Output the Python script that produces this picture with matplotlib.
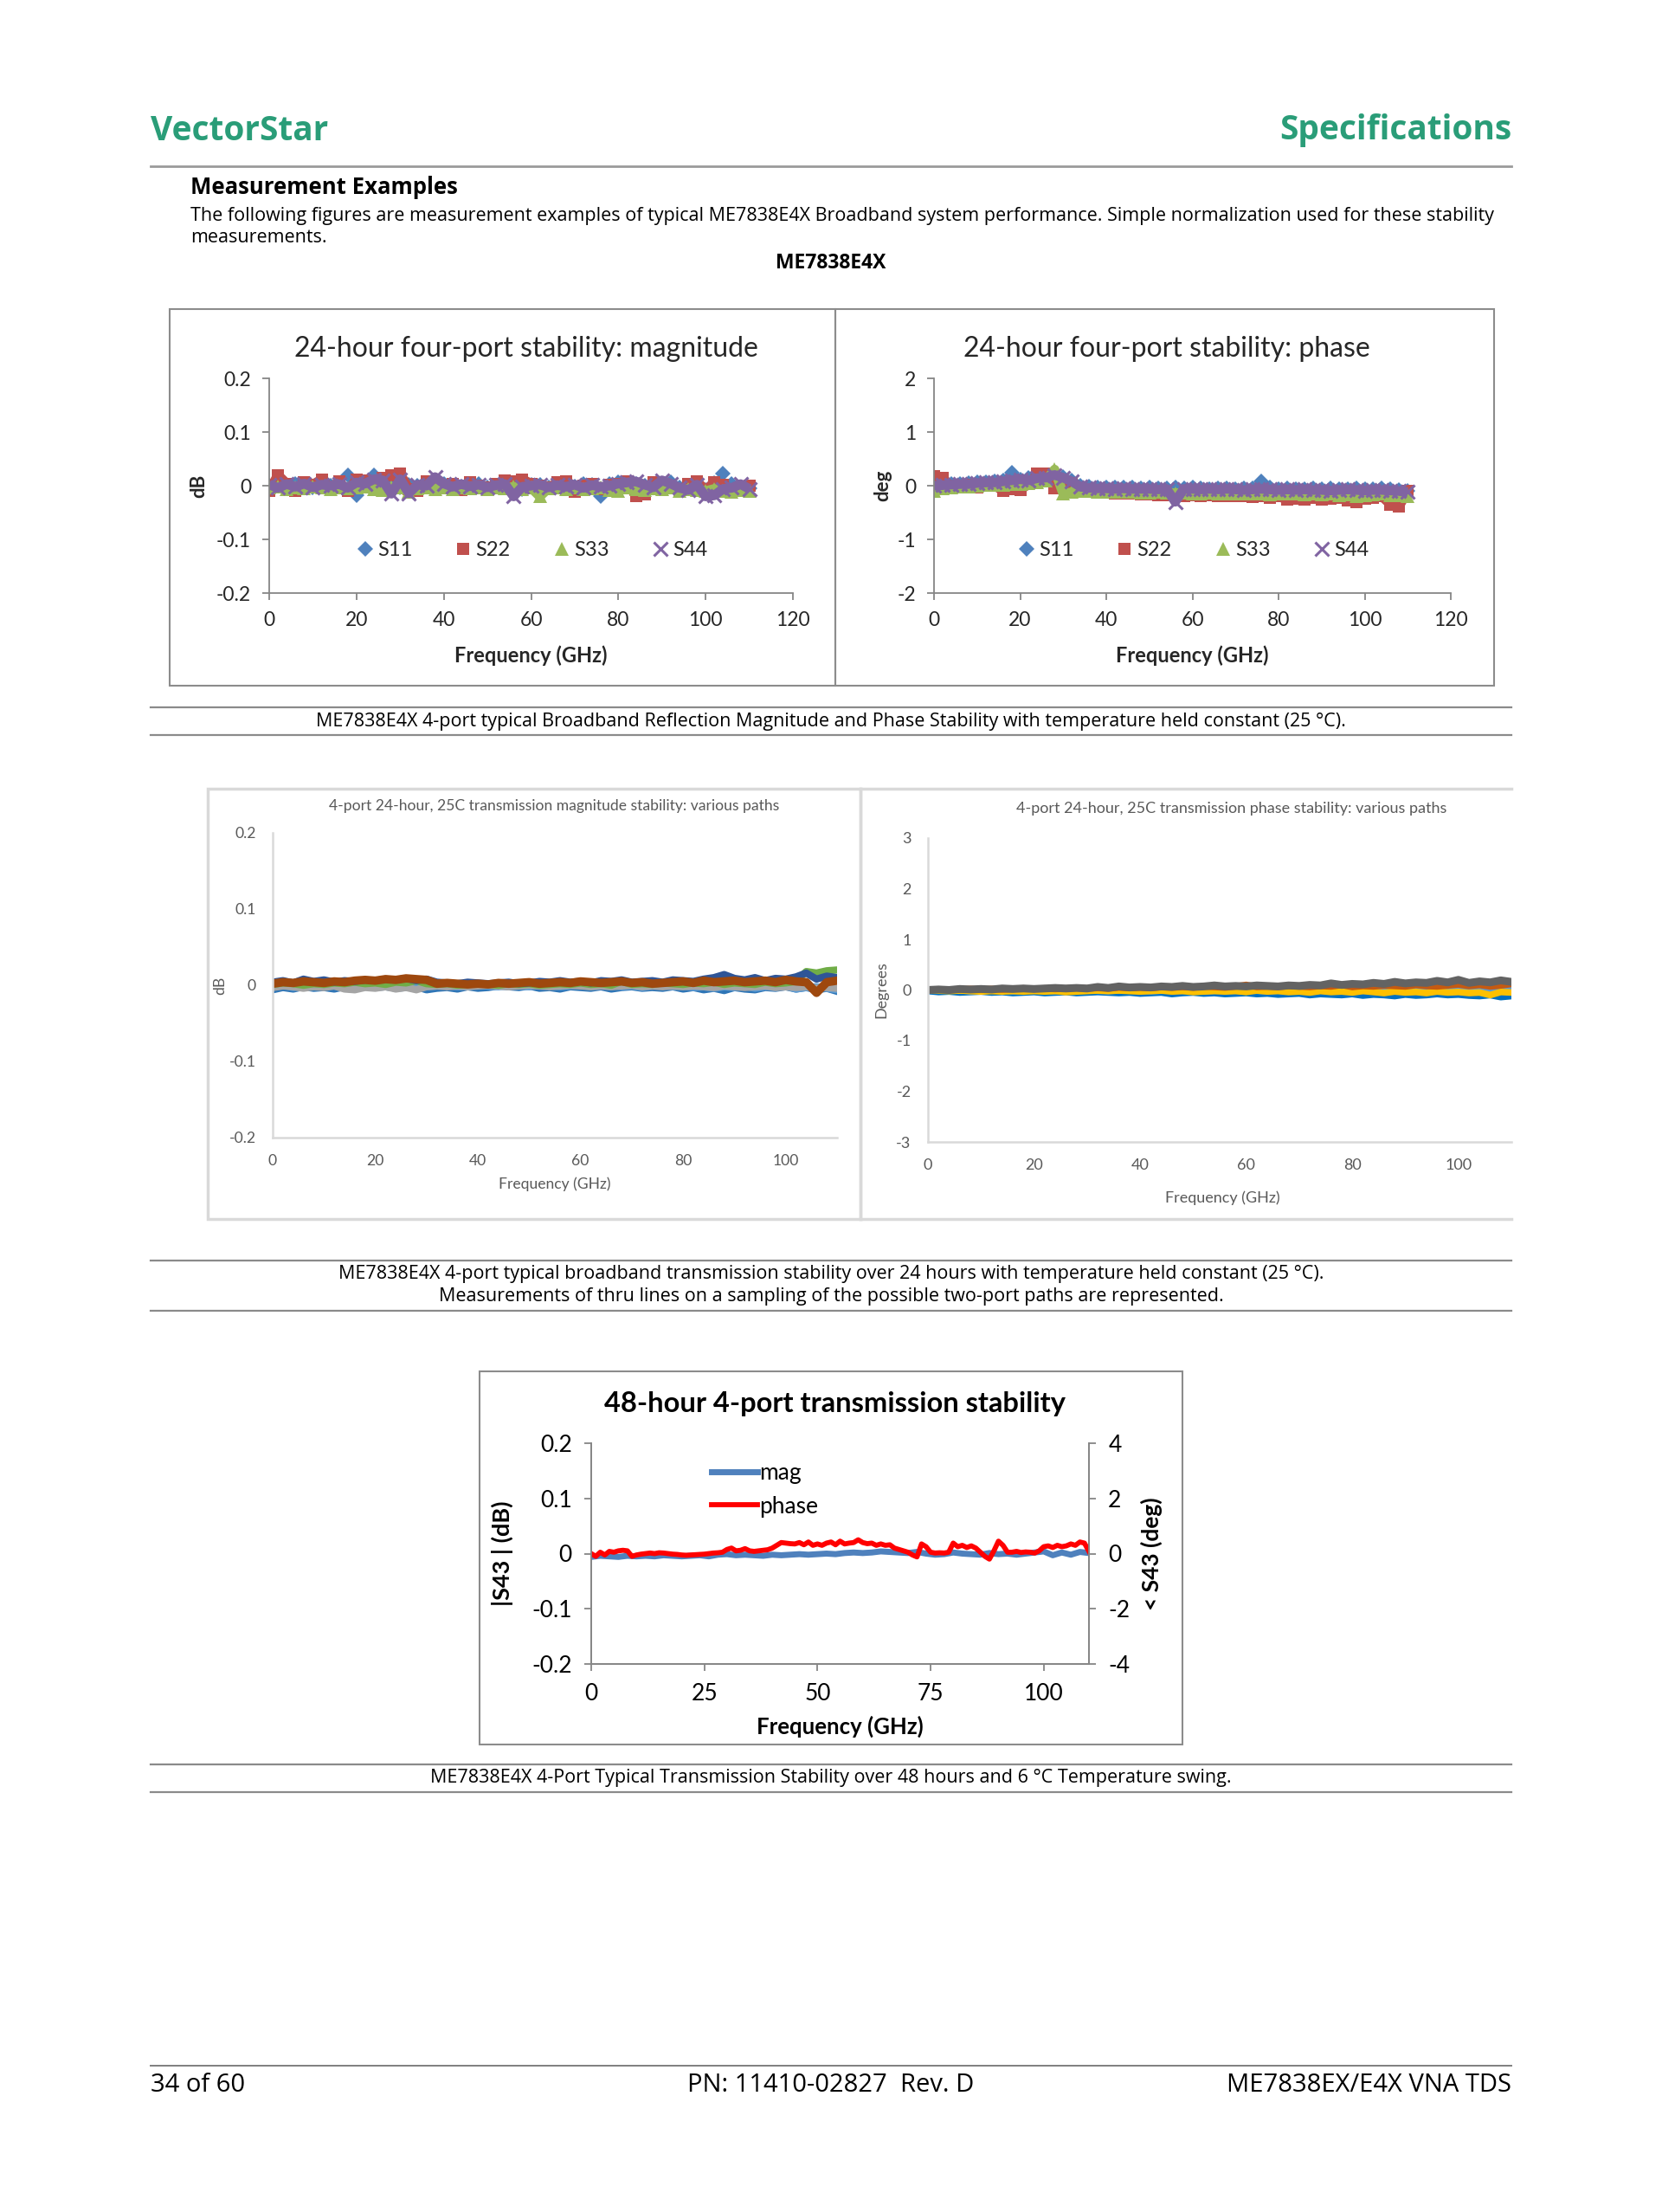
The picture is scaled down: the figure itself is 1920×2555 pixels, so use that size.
import numpy as np
import matplotlib
matplotlib.use('Agg')
import matplotlib.pyplot as plt
from matplotlib.lines import Line2D
from matplotlib.patches import Rectangle

# ---------------- data ----------------
# reflection stability, 24 h (every 2 GHz, 0..110 GHz)
refl_freq = np.arange(0, 111, 2)
mag_s11 = [0.000, 0.003, -0.002, 0.004, 0.001, -0.003, 0.002, 0.000, 0.003, 0.020,
           -0.018, 0.004, 0.019, 0.005, 0.002, -0.003, 0.001, 0.000, 0.002, -0.004,
           0.003, 0.000, -0.002, 0.001, 0.003, -0.003, 0.000, 0.002, -0.001, -0.006,
           0.002, 0.001, -0.003, 0.000, 0.002, -0.002, 0.004, 0.001, -0.020, 0.003,
           0.006, -0.002, 0.004, 0.000, -0.003, 0.002, 0.007, -0.004, 0.000, 0.003,
           -0.008, 0.005, 0.022, 0.004, -0.003, -0.005]
mag_s22 = [-0.010, 0.020, 0.004, -0.010, 0.006, 0.002, 0.012, -0.004, 0.008, -0.010,
           0.012, 0.010, 0.006, 0.014, 0.020, 0.022, -0.006, -0.010, 0.008, 0.002,
           -0.002, 0.004, -0.008, 0.006, 0.000, -0.004, 0.003, 0.010, 0.008, 0.012,
           0.004, 0.000, -0.004, 0.006, 0.008, -0.012, 0.000, 0.004, -0.006, 0.002,
           0.004, 0.008, -0.020, -0.016, 0.006, 0.002, -0.004, -0.010, 0.004, 0.008,
           -0.008, 0.006, 0.002, -0.008, -0.004, 0.000]
mag_s33 = [-0.004, -0.002, -0.006, -0.003, -0.005, -0.002, -0.004, -0.006, -0.003, -0.005,
           -0.004, -0.002, -0.006, -0.008, -0.003, -0.004, -0.012, -0.005, -0.003, -0.006,
           -0.004, -0.007, -0.003, -0.005, -0.004, -0.006, -0.003, -0.005, -0.002, -0.006,
           -0.004, -0.020, -0.005, -0.003, -0.006, -0.004, -0.007, -0.005, -0.003, -0.008,
           -0.010, -0.004, -0.006, -0.008, -0.005, -0.007, -0.004, -0.009, -0.006, -0.008,
           -0.010, -0.006, -0.009, -0.012, -0.008, -0.010]
mag_s44 = [0.002, -0.004, 0.003, -0.002, 0.004, -0.003, 0.002, 0.000, 0.003, -0.004,
           0.006, 0.004, 0.012, 0.010, -0.015, 0.012, -0.014, 0.002, 0.000, 0.016,
           0.004, -0.002, 0.003, -0.001, 0.002, -0.003, 0.001, 0.003, -0.020, -0.002,
           0.000, 0.002, -0.003, 0.001, -0.002, 0.002, -0.004, 0.001, -0.002, 0.000,
           0.004, 0.006, 0.008, 0.002, -0.003, 0.010, 0.004, -0.004, -0.008, 0.002,
           -0.020, -0.018, -0.006, -0.004, 0.003, -0.006]

ph_s11 = [0.00, 0.02, 0.03, 0.04, 0.05, 0.06, 0.07, 0.08, 0.09, 0.25,
          0.12, 0.14, 0.15, 0.17, 0.18, 0.16, 0.10, 0.00, -0.02, -0.03,
          -0.03, -0.04, -0.03, -0.04, -0.05, -0.04, -0.05, -0.05, -0.04, -0.05,
          -0.04, -0.05, -0.06, -0.05, -0.05, -0.06, -0.05, -0.05, 0.08, -0.04,
          -0.06, -0.05, -0.06, -0.06, -0.05, -0.06, -0.05, -0.06, -0.06, -0.05,
          -0.07, -0.06, -0.05, -0.06, -0.08, -0.10]
ph_s22 = [0.18, 0.15, -0.02, -0.04, 0.02, -0.03, 0.00, 0.01, -0.10, -0.06,
          -0.08, 0.03, 0.22, 0.22, -0.05, 0.08, 0.05, -0.10, -0.12, -0.12,
          -0.13, -0.14, -0.15, -0.15, -0.16, -0.16, -0.17, -0.18, -0.18, -0.20,
          -0.18, -0.19, -0.18, -0.19, -0.20, -0.20, -0.19, -0.21, -0.20, -0.22,
          -0.20, -0.26, -0.24, -0.25, -0.22, -0.26, -0.24, -0.22, -0.28, -0.30,
          -0.24, -0.22, -0.20, -0.35, -0.38, -0.10]
ph_s33 = [-0.10, -0.05, -0.03, -0.02, -0.02, 0.00, 0.01, 0.02, 0.02, 0.03,
          0.04, 0.05, 0.06, 0.10, 0.30, -0.15, -0.12, -0.10, -0.10, -0.11,
          -0.11, -0.12, -0.12, -0.12, -0.13, -0.13, -0.12, -0.13, -0.14, -0.13,
          -0.14, -0.14, -0.13, -0.14, -0.15, -0.14, -0.15, -0.14, -0.15, -0.16,
          -0.14, -0.15, -0.15, -0.16, -0.15, -0.16, -0.15, -0.17, -0.16, -0.20,
          -0.18, -0.16, -0.15, -0.17, -0.18, -0.20]
ph_s44 = [0.00, 0.01, 0.02, 0.03, 0.03, 0.05, 0.06, 0.06, 0.08, 0.10,
          0.12, 0.10, 0.14, 0.15, 0.20, 0.15, 0.08, -0.02, -0.04, -0.05,
          -0.05, -0.06, -0.05, -0.06, -0.06, -0.06, -0.07, -0.06, -0.30, -0.06,
          -0.06, -0.07, -0.06, -0.07, -0.06, -0.07, -0.08, -0.07, -0.06, -0.07,
          -0.08, -0.07, -0.08, -0.07, -0.08, -0.08, -0.09, -0.08, -0.07, -0.08,
          -0.09, -0.08, -0.08, -0.09, -0.10, -0.12]

# transmission stability, 24 h, several paths (every 2 GHz)
trans_freq = np.arange(0, 111, 2)
tm_darkblue = [0.004, 0.006, 0.003, 0.008, 0.005, 0.007, 0.004, 0.006, 0.005, 0.007,
               0.006, 0.008, 0.007, 0.009, 0.006, 0.008, 0.004, 0.003, 0.002, 0.004,
               0.003, 0.002, 0.003, 0.004, 0.002, 0.003, 0.005, 0.004, 0.006, 0.004,
               0.005, 0.003, 0.006, 0.005, 0.007, 0.004, 0.005, 0.006, 0.004, 0.007,
               0.006, 0.005, 0.008, 0.010, 0.014, 0.009, 0.007, 0.010, 0.006, 0.009,
               0.008, 0.011, 0.016, 0.008, 0.012, 0.010]
tm_blue = [-0.006, -0.003, -0.005, -0.002, -0.004, -0.003, -0.005, -0.002, -0.004, -0.001,
           -0.003, -0.002, -0.004, -0.003, -0.002, -0.006, -0.004, -0.003, -0.005, -0.002,
           -0.004, -0.003, -0.001, -0.002, -0.003, -0.001, -0.004, -0.003, -0.005, -0.002,
           -0.003, -0.004, -0.002, -0.005, -0.003, -0.002, -0.004, -0.003, -0.004, -0.002,
           -0.005, -0.003, -0.006, -0.004, -0.007, -0.003, -0.005, -0.006, -0.003, -0.004,
           -0.002, -0.005, -0.003, -0.006, -0.004, -0.008]
tm_lightblue = [-0.002, 0.000, -0.003, -0.001, -0.002, 0.000, -0.001, -0.003, -0.002, 0.000,
                -0.001, -0.002, 0.000, -0.001, -0.003, -0.002, -0.001, 0.000, -0.002, -0.001,
                0.000, -0.001, -0.002, 0.000, -0.001, -0.002, 0.000, -0.001, -0.002, -0.001,
                0.000, -0.002, -0.001, 0.000, -0.002, -0.001, -0.003, -0.001, 0.000, -0.002,
                -0.001, -0.003, -0.002, -0.004, -0.002, -0.003, -0.001, -0.004, -0.002, -0.003,
                -0.001, -0.005, -0.003, -0.002, -0.004, -0.006]
tm_gray = [-0.003, -0.001, -0.002, -0.004, -0.002, -0.003, -0.001, -0.005, -0.006, -0.003,
           -0.004, -0.002, -0.005, -0.003, -0.006, -0.002, -0.001, -0.002, -0.001, -0.002,
           -0.001, 0.000, -0.001, -0.002, -0.001, 0.000, -0.001, -0.002, -0.001, 0.000,
           -0.001, -0.002, -0.001, -0.002, -0.001, 0.000, -0.002, -0.001, -0.002, -0.001,
           -0.002, -0.001, -0.002, -0.003, -0.001, -0.002, -0.003, -0.002, -0.001, -0.003,
           -0.002, -0.003, -0.002, -0.004, -0.003, -0.004]
tm_green = [0.001, 0.003, 0.002, 0.000, 0.002, 0.001, 0.003, 0.002, 0.004, 0.002,
            0.003, 0.001, 0.004, 0.003, 0.006, 0.002, 0.001, 0.002, 0.000, 0.001,
            0.002, 0.001, 0.000, 0.002, 0.001, 0.002, 0.000, 0.001, 0.002, 0.001,
            0.003, 0.001, 0.002, 0.000, 0.005, 0.001, 0.002, 0.001, 0.003, 0.002,
            0.001, 0.003, 0.002, 0.004, 0.001, 0.003, 0.002, 0.001, 0.004, 0.002,
            0.003, 0.005, 0.018, 0.016, 0.019, 0.020]
tm_brown = [0.002, 0.004, 0.003, 0.005, 0.004, 0.003, 0.005, 0.004, 0.006, 0.007,
            0.006, 0.008, 0.007, 0.009, 0.008, 0.007, 0.002, 0.003, 0.002, 0.001,
            0.002, 0.001, 0.003, 0.002, 0.003, 0.004, 0.002, 0.003, 0.004, 0.003,
            0.005, 0.004, 0.003, 0.004, 0.005, 0.003, 0.004, 0.002, 0.003, 0.004,
            0.005, 0.003, 0.006, 0.004, 0.005, 0.006, 0.004, 0.005, 0.006, 0.004,
            0.007, 0.005, 0.004, -0.010, 0.004, 0.006]

tp_blue = [-0.02, -0.04, -0.03, -0.05, -0.04, -0.03, -0.05, -0.04, -0.06, -0.05,
           -0.04, -0.06, -0.05, -0.04, -0.06, -0.05, -0.04, -0.05, -0.06, -0.05,
           -0.07, -0.06, -0.05, -0.08, -0.06, -0.05, -0.07, -0.06, -0.08, -0.07,
           -0.06, -0.08, -0.07, -0.09, -0.08, -0.07, -0.10, -0.08, -0.09, -0.10,
           -0.08, -0.11, -0.09, -0.10, -0.12, -0.09, -0.11, -0.10, -0.08, -0.10,
           -0.09, -0.11, -0.12, -0.10, -0.14, -0.12]
tp_lightblue = [-0.01, 0.00, -0.02, -0.01, -0.03, -0.01, -0.02, -0.01, -0.03, -0.02,
                -0.01, -0.02, -0.03, -0.01, -0.02, -0.01, -0.02, -0.03, -0.01, -0.02,
                -0.01, -0.03, -0.02, -0.01, -0.02, -0.01, -0.03, -0.02, -0.01, -0.02,
                -0.01, -0.02, -0.03, -0.01, -0.02, -0.01, -0.02, -0.01, -0.03, -0.02,
                -0.01, -0.02, -0.01, 0.00, -0.02, -0.01, 0.00, -0.01, 0.01, 0.02,
                0.00, 0.03, 0.01, 0.02, 0.00, 0.01]
tp_yellow = [0.00, -0.01, -0.02, -0.01, -0.02, -0.03, -0.02, -0.03, -0.02, -0.03,
             -0.02, -0.03, -0.02, -0.04, -0.03, -0.02, -0.01, -0.02, -0.01, -0.02,
             -0.03, -0.02, -0.01, -0.03, -0.02, -0.04, -0.03, -0.02, -0.03, -0.02,
             -0.04, -0.01, -0.03, -0.02, -0.04, -0.03, -0.05, -0.02, -0.04, -0.03,
             -0.05, -0.02, -0.04, -0.06, -0.03, -0.05, -0.04, -0.06, -0.03, -0.05,
             -0.04, -0.06, -0.05, -0.10, -0.04, -0.05]
tp_brown = [0.00, 0.01, 0.00, 0.01, 0.02, 0.01, 0.02, 0.01, 0.02, 0.03,
            0.02, 0.03, 0.02, 0.03, 0.04, 0.03, 0.04, 0.03, 0.05, 0.04,
            0.05, 0.04, 0.06, 0.05, 0.06, 0.05, 0.07, 0.06, 0.05, 0.07,
            0.10, 0.06, 0.07, 0.06, 0.08, 0.07, 0.06, 0.08, 0.07, 0.10,
            0.06, 0.08, 0.07, 0.09, 0.08, 0.07, 0.10, 0.08, 0.07, 0.09,
            0.11, 0.08, 0.10, 0.07, 0.09, 0.12]
tp_gray = [0.00, 0.01, 0.00, 0.02, 0.01, 0.02, 0.01, 0.03, 0.02, 0.03,
           0.02, 0.03, 0.04, 0.03, 0.04, 0.03, 0.06, 0.04, 0.07, 0.05,
           0.06, 0.05, 0.07, 0.06, 0.08, 0.06, 0.07, 0.09, 0.07, 0.08,
           0.07, 0.09, 0.08, 0.07, 0.09, 0.08, 0.10, 0.09, 0.13, 0.10,
           0.12, 0.11, 0.14, 0.12, 0.16, 0.13, 0.15, 0.14, 0.18, 0.15,
           0.20, 0.14, 0.17, 0.15, 0.19, 0.16]

# 48 h S43: magnitude every 2 GHz, phase every 1 GHz
s43_mag_freq = np.arange(0, 111, 2)
s43_mag = [-0.006, -0.004, -0.005, -0.006, -0.004, -0.005, -0.004, -0.005, -0.003, -0.004,
           -0.005, -0.004, -0.003, -0.005, -0.002, -0.001, -0.003, -0.002, -0.003, -0.004,
           -0.002, -0.003, -0.002, -0.001, -0.002, -0.001, 0.000, -0.001, 0.001, 0.002,
           0.001, 0.002, 0.004, 0.003, 0.002, 0.001, 0.003, 0.000, -0.002, -0.001,
           0.002, 0.000, -0.001, -0.002, 0.001, -0.001, 0.000, -0.002, 0.000, 0.002,
           0.004, -0.003, 0.002, -0.002, 0.003, 0.001]
s43_ph_freq = np.arange(0, 111, 1)
s43_ph = [0.00, -0.10, 0.05, -0.05, 0.08, 0.05, 0.10, 0.12, 0.10, -0.10,
          -0.05, -0.02, 0.00, 0.02, 0.00, 0.03, 0.02, 0.00, -0.02, -0.03,
          -0.05, -0.06, -0.05, -0.04, -0.03, -0.02, 0.00, 0.02, 0.03, 0.05,
          0.15, 0.20, 0.10, 0.12, 0.18, 0.10, 0.08, 0.10, 0.12, 0.14,
          0.20, 0.30, 0.40, 0.38, 0.36, 0.35, 0.40, 0.32, 0.42, 0.30,
          0.35, 0.30, 0.38, 0.42, 0.32, 0.45, 0.35, 0.38, 0.40, 0.50,
          0.40, 0.36, 0.38, 0.30, 0.35, 0.30, 0.32, 0.20, 0.15, 0.10,
          0.05, -0.05, -0.12, 0.35, 0.25, 0.05, 0.02, 0.03, 0.02, 0.05,
          0.38, 0.25, 0.30, 0.22, 0.28, 0.20, 0.05, -0.10, -0.20, 0.10,
          0.45, 0.30, 0.05, 0.05, 0.08, 0.04, 0.06, 0.05, 0.02, 0.10,
          0.25, 0.28, 0.22, 0.30, 0.25, 0.28, 0.35, 0.30, 0.42, 0.38, 0.08]

port_labels = ['S11', 'S22', 'S33', 'S44']
freq_ticks_120 = [0, 20, 40, 60, 80, 100, 120]
freq_ticks_100 = [0, 20, 40, 60, 80, 100]
freq_ticks_25 = [0, 25, 50, 75, 100]
db_ticks = [-0.2, -0.1, 0, 0.1, 0.2]
db_ticklabels = ['-0.2', '-0.1', '0', '0.1', '0.2']

# ---------------- page ----------------
W, H = 1920, 2555
GREEN = '#2a9d78'
PAGE_FONT = 'Open Sans'
CHART_FONT = 'Lato'

fig = plt.figure(figsize=(19.2, 25.55), dpi=100)


def rect(l, t, r, b):
    return [l / W, 1 - b / H, (r - l) / W, (b - t) / H]


def ptext(x, y, s, **kw):
    kw.setdefault('family', PAGE_FONT)
    kw.setdefault('fontsize', 15.5)
    kw.setdefault('va', 'center')
    fig.text(x / W, 1 - (y + 3) / H, s, **kw)


def hline(y, x0=174, x1=1746, color='#8a8a8a', lw=1.6):
    fig.add_artist(Line2D([x0 / W, x1 / W], [1 - y / H] * 2, color=color, lw=lw))


def box(l, t, r, b, color, lw):
    fig.add_artist(Rectangle((l / W, 1 - b / H), (r - l) / W, (b - t) / H,
                             fill=False, ec=color, lw=lw))


ptext(174, 148, 'VectorStar', fontsize=28, fontweight='bold', color=GREEN)
ptext(1746, 148, 'Specifications', fontsize=28, fontweight='bold', color=GREEN, ha='right')
hline(192, color='#9a9a9a', lw=2)
ptext(220, 213, 'Measurement Examples', fontsize=18.5, fontweight='bold')
ptext(220, 246, 'The following figures are measurement examples of typical ME7838E4X Broadband '
                'system performance. Simple normalization used for these stability')
ptext(220, 272, 'measurements.')
ptext(960, 301, 'ME7838E4X', fontsize=16.5, fontweight='bold', ha='center')

# ---------- reflection panels ----------
box(196, 357, 965, 792, '#8c8c8c', 1.5)
box(965, 357, 1726, 792, '#8c8c8c', 1.5)

markers = [('D', '#4f81bd', 9), ('s', '#c0504d', 10), ('^', '#9bbb59', 11), ('x', '#8064a2', 12)]


def refl_panel(r, title, title_x, ylabel, ylabel_x, data, ylim, yticks, yticklabels):
    ax = fig.add_axes(rect(*r))
    for vals, (m, c, s), lab in zip(data, markers, port_labels):
        # dense measurement points merge into a solid band
        if m != 'D':
            ax.plot(refl_freq, vals, color=c, lw=8, solid_joinstyle='round',
                    solid_capstyle='butt')
        kw = dict(mew=2.2) if m == 'x' else dict(mew=0)
        ax.plot(refl_freq, vals, ls='none', marker=m, color=c, ms=s, label=lab, **kw)
    ax.set_xlim(0, 120)
    ax.set_ylim(*ylim)
    ax.set_xticks(freq_ticks_120)
    ax.set_yticks(yticks)
    ax.set_yticklabels(yticklabels)
    for sp in ['top', 'right']:
        ax.spines[sp].set_visible(False)
    for sp in ['left', 'bottom']:
        ax.spines[sp].set_color('#868686')
        ax.spines[sp].set_linewidth(1.3)
    ax.tick_params(direction='out', length=6, width=1.3, color='#868686', pad=9,
                   labelsize=16.5, labelcolor='#262626')
    for t in ax.get_xticklabels() + ax.get_yticklabels():
        t.set_family(CHART_FONT)
    ax.set_title(title, fontsize=23, family=CHART_FONT, color='#262626', pad=0,
                 x=title_x, y=1.0 + 34 / 248, va='center')
    ax.text(ylabel_x, 0.5, ylabel, transform=ax.transAxes, rotation=90, ha='center',
            va='center', fontsize=16, fontweight='bold', family=CHART_FONT, color='#262626')
    ax.text(0.5, -0.29, 'Frequency (GHz)', transform=ax.transAxes, ha='center', va='center',
            fontsize=17, fontweight='bold', family=CHART_FONT, color='#262626')
    leg = ax.legend(loc='center', bbox_to_anchor=(0.5, 0.2), ncol=4, frameon=False,
                    handletextpad=0.1, columnspacing=2.0, handlelength=1.0,
                    prop={'family': CHART_FONT, 'size': 17})
    for t in leg.get_texts():
        t.set_color('#262626')
    return ax


refl_panel((311, 437, 916, 685), '24-hour four-port stability: magnitude', 0.49,
           'dB', -0.134, [mag_s11, mag_s22, mag_s33, mag_s44], (-0.2, 0.2),
           db_ticks, db_ticklabels)
refl_panel((1079, 437, 1676, 685), '24-hour four-port stability: phase', 0.45,
           'deg', -0.099, [ph_s11, ph_s22, ph_s33, ph_s44], (-2, 2),
           [-2, -1, 0, 1, 2], ['-2', '-1', '0', '1', '2'])

hline(817)
ptext(960, 830, 'ME7838E4X 4-port typical Broadband Reflection Magnitude and Phase Stability '
                'with temperature held constant (25 °C).', ha='center')
hline(849)

# ---------- transmission panels ----------
LIGHT = '#d9d9d9'
box(240, 911, 994, 1408, LIGHT, 2.5)
hline(911, 994, 1746, LIGHT, 2.5)
hline(1408, 994, 1746, LIGHT, 2.5)
fig.add_artist(Line2D([994 / W] * 2, [1 - 911 / H, 1 - 1408 / H], color=LIGHT, lw=2.5))


def trans_panel(r, title, title_x, title_y, ylabel, ylabel_x, xlabel_y, fs, series,
                ylim, yticks, yticklabels):
    ax = fig.add_axes(rect(*r))
    for vals, c, lw in series:
        ax.plot(trans_freq, vals, color=c, lw=lw, solid_joinstyle='round')
    ax.set_xlim(0, 110)
    ax.set_ylim(*ylim)
    ax.set_xticks(freq_ticks_100)
    ax.set_yticks(yticks)
    ax.set_yticklabels(yticklabels)
    for sp in ['top', 'right']:
        ax.spines[sp].set_visible(False)
    for sp in ['left', 'bottom']:
        ax.spines[sp].set_color(LIGHT)
        ax.spines[sp].set_linewidth(1.8)
    ax.tick_params(length=0, pad=14, labelsize=fs, labelcolor='#595959')
    for t in ax.get_xticklabels() + ax.get_yticklabels():
        t.set_family(CHART_FONT)
    ax.text(title_x, title_y, title, transform=ax.transAxes, ha='center', va='center',
            fontsize=fs, family=CHART_FONT, color='#595959')
    ax.text(ylabel_x, 0.5, ylabel, transform=ax.transAxes, rotation=90, ha='center',
            va='center', fontsize=fs, family=CHART_FONT, color='#595959')
    ax.text(0.5 if ylabel == 'dB' else 0.505, xlabel_y, 'Frequency (GHz)', transform=ax.transAxes,
            ha='center', va='center', fontsize=fs, family=CHART_FONT, color='#595959')
    return ax


trans_panel((315, 962, 967, 1314), '4-port 24-hour, 25C transmission magnitude stability: various paths',
            0.498, 1.088, 'dB', -0.093, -0.153, 12.6,
            [(tm_blue, '#2e75b6', 6), (tm_lightblue, '#5b9bd5', 6), (tm_gray, '#a5a5a5', 6),
             (tm_green, '#70ad47', 6), (tm_darkblue, '#2f5597', 6), (tm_brown, '#9e480e', 7)],
            (-0.2, 0.2), db_ticks, db_ticklabels)
trans_panel((1072, 968, 1746, 1319), '4-port 24-hour, 25C transmission phase stability: various paths',
            0.52, 1.098, 'Degrees', -0.079, -0.185, 13,
            [(tp_blue, '#0070c0', 5.5), (tp_lightblue, '#5b9bd5', 5), (tp_yellow, '#ffc000', 5.5),
             (tp_brown, '#c55a11', 5.5), (tp_gray, '#636363', 6.5)],
            (-3, 3), [-3, -2, -1, 0, 1, 2, 3], ['-3', '-2', '-1', '0', '1', '2', '3'])

hline(1456)
ptext(960, 1469, 'ME7838E4X 4-port typical broadband transmission stability over 24 hours '
                 'with temperature held constant (25 °C).', ha='center')
ptext(960, 1495, 'Measurements of thru lines on a sampling of the possible two-port paths '
                 'are represented.', ha='center')
hline(1514)

# ---------- 48 h panel ----------
box(554, 1584, 1366, 2015, '#8c8c8c', 1.5)
ax5 = fig.add_axes(rect(683, 1667, 1258, 1922))
ax5r = ax5.twinx()
h_mag, = ax5.plot(s43_mag_freq, s43_mag, color='#4f81bd', lw=5, label='mag')
h_ph, = ax5r.plot(s43_ph_freq, s43_ph, color='#ff0000', lw=4.2, label='phase')
ax5.set_xlim(0, 110)
ax5.set_ylim(-0.2, 0.2)
ax5r.set_ylim(-4, 4)
ax5.set_xticks(freq_ticks_25)
ax5.set_yticks(db_ticks)
ax5.set_yticklabels(db_ticklabels)
ax5r.set_yticks([-4, -2, 0, 2, 4])
ax5r.set_yticklabels(['-4', '-2', '0', '2', '4'])
for a in (ax5, ax5r):
    a.spines['top'].set_visible(False)
    for sp in ['left', 'right', 'bottom']:
        a.spines[sp].set_color('#868686')
        a.spines[sp].set_linewidth(1.3)
    a.tick_params(direction='out', length=6, width=1.3, color='#868686', pad=10,
                  labelsize=19, labelcolor='#000000')
    for t in a.get_xticklabels() + a.get_yticklabels():
        t.set_family(CHART_FONT)
ax5.text(0.49, 1.0 + 45 / 255, '48-hour 4-port transmission stability', transform=ax5.transAxes,
         ha='center', va='center', fontsize=23.5, fontweight='bold', family=CHART_FONT)
ax5.text(-0.179, 0.5, '|S43 | (dB)', transform=ax5.transAxes, rotation=90, ha='center',
         va='center', fontsize=19.5, fontweight='bold', family=CHART_FONT)
ax5.text(1.125, 0.5, '< S43 (deg)', transform=ax5.transAxes, rotation=90, ha='center',
         va='center', fontsize=19, fontweight='bold', family=CHART_FONT)
ax5.text(0.5, -0.285, 'Frequency (GHz)', transform=ax5.transAxes, ha='center', va='center',
         fontsize=18.5, fontweight='bold', family=CHART_FONT)
ax5r.legend([h_mag, h_ph], ['mag', 'phase'], loc='upper left', bbox_to_anchor=(0.2, 1.005),
            frameon=False, handlelength=2.0, handletextpad=0.1, labelspacing=0.5,
            prop={'family': CHART_FONT, 'size': 19})

hline(2038)
ptext(960, 2050, 'ME7838E4X 4-Port Typical Transmission Stability over 48 hours and 6 °C '
                 'Temperature swing.', ha='center')
hline(2070)

# ---------- footer ----------
hline(2386, color='#7f7f7f', lw=1.4)
ptext(174, 2406, '34 of 60', fontsize=21)
ptext(960, 2406, 'PN: 11410-02827  Rev. D', fontsize=21, ha='center')
ptext(1746, 2406, 'ME7838EX/E4X VNA TDS', fontsize=21, ha='right')

fig.savefig('out.png', dpi=100)
